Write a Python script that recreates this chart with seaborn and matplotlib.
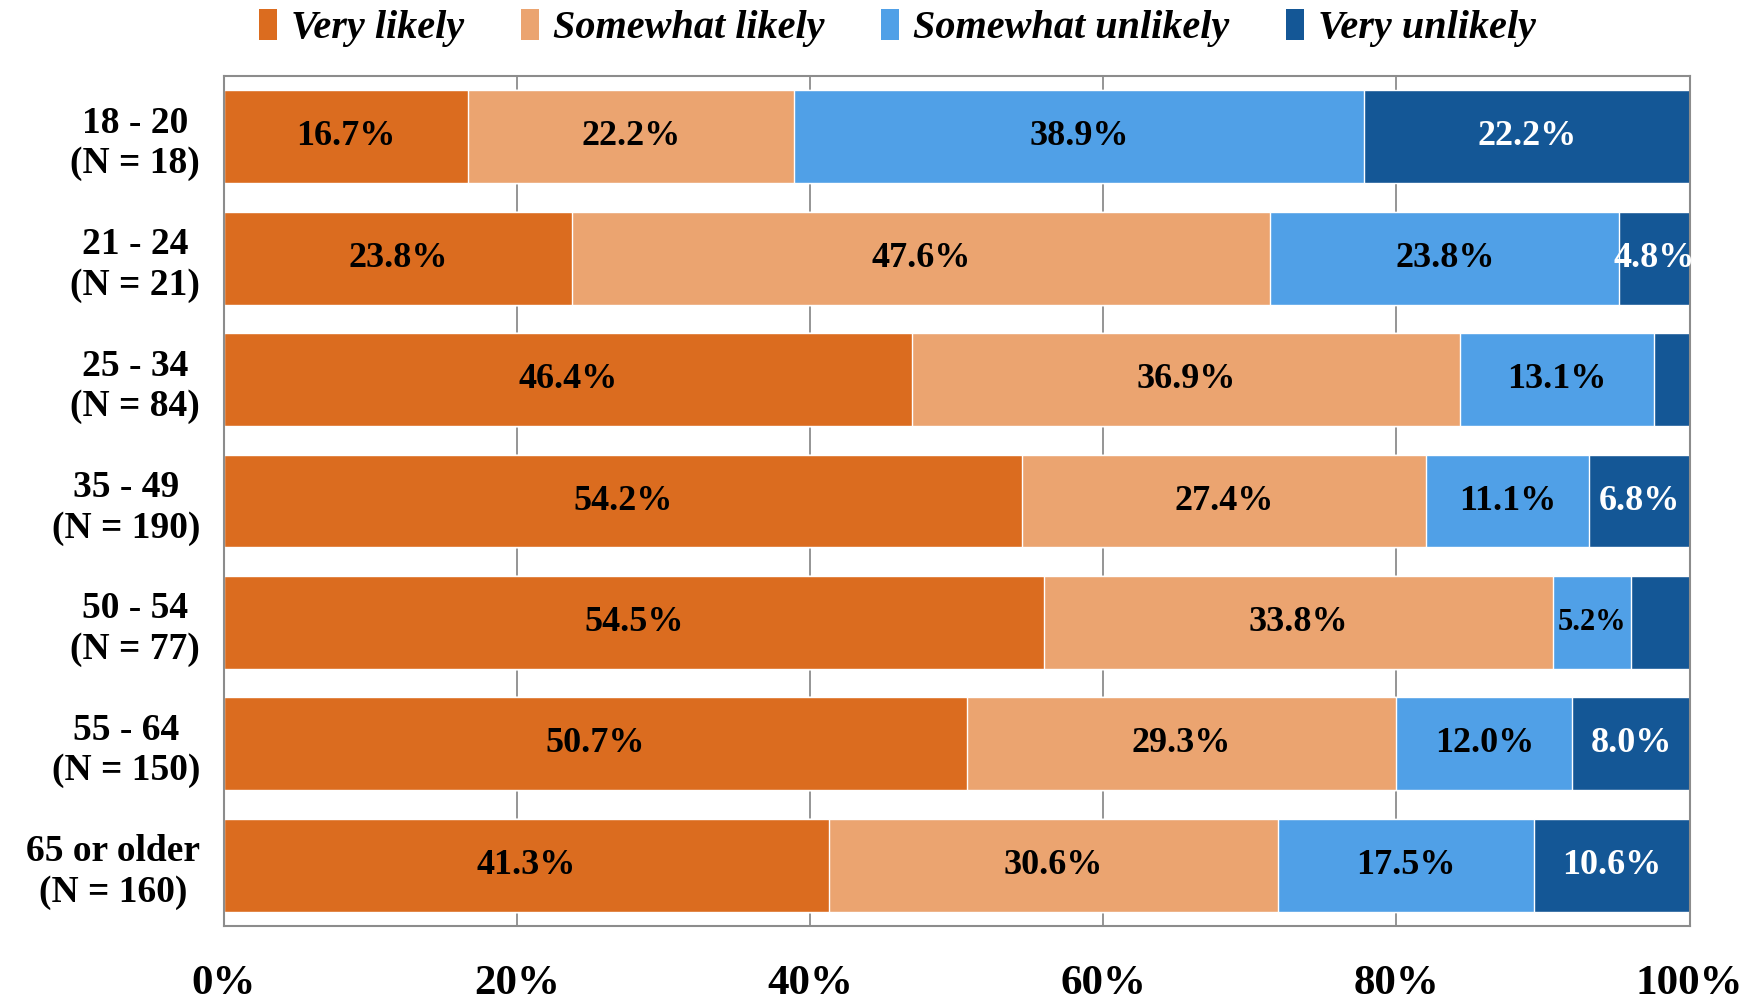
import matplotlib
matplotlib.use("Agg")
import matplotlib.pyplot as plt
from matplotlib.patches import Patch
import seaborn as sns
import pandas as pd
import numpy as np

# age groups (rows, top to bottom)
age_groups = ["18 - 20\n(N = 18)", "21 - 24\n(N = 21)", "25 - 34\n(N = 84)",
              "35 - 49\n(N = 190)", "50 - 54\n(N = 77)", "55 - 64\n(N = 150)",
              "65 or older\n(N = 160)"]

# percent of N in each answer (as printed on the bars)
very_likely = [16.7, 23.8, 46.4, 54.2, 54.5, 50.7, 41.3]
somewhat_likely = [22.2, 47.6, 36.9, 27.4, 33.8, 29.3, 30.6]
somewhat_unlikely = [38.9, 23.8, 13.1, 11.1, 5.2, 12.0, 17.5]
very_unlikely = [22.2, 4.8, 2.4, 6.8, 3.9, 8.0, 10.6]

answers = ["Very likely", "Somewhat likely", "Somewhat unlikely", "Very unlikely"]
colors = ["#DB6C1F", "#EBA470", "#50A0E7", "#145796"]
text_colors = ["black", "black", "black", "white"]
x_ticks = [0, 20, 40, 60, 80, 100]

sns.set_theme(style="white")
plt.rcParams["font.family"] = ["Liberation Serif", "DejaVu Serif"]
plt.rcParams["font.weight"] = "bold"
plt.rcParams["text.color"] = "black"
plt.rcParams["xtick.color"] = "black"
plt.rcParams["ytick.color"] = "black"

pct = np.array([very_likely, somewhat_likely, somewhat_unlikely, very_unlikely])
# bars are stretched to fill 100% (some people gave no answer)
share = pct / pct.sum(axis=0) * 100
cum = np.cumsum(share, axis=0)

fig = plt.figure(figsize=(17.6, 10), dpi=100)
ax = fig.add_axes([0.127, 0.074, 0.833, 0.850])

# stacked bars: draw cumulative totals back to front
for i in range(3, -1, -1):
    df = pd.DataFrame({"age": age_groups, "end": cum[i]})
    sns.barplot(data=df, x="end", y="age", orient="h", color=colors[i],
                saturation=1, width=0.765, ax=ax, zorder=2)

# labels in the middle of each piece
for i in range(4):
    for j in range(len(age_groups)):
        if pct[i, j] < 4:
            continue
        mid = cum[i, j] - share[i, j] / 2
        fs = 22 if (i == 2 and share[i, j] < 6) else 26
        ax.text(mid, j, f"{pct[i, j]:.1f}%", ha="center", va="center",
                fontsize=fs, fontweight="bold", color=text_colors[i], zorder=3)

ax.set_xlim(0, 100)
ax.set_ylim(6.5, -0.5)
ax.set_xticks(x_ticks)
ax.set_xticklabels([f"{t}%" for t in x_ticks], fontsize=31, fontweight="bold")
ax.tick_params(axis="x", length=0, pad=28)
ax.tick_params(axis="y", length=0, pad=17, labelsize=27)
for lab in ax.get_yticklabels():
    lab.set_multialignment("center")
    lab.set_fontweight("bold")
ax.set_xlabel("")
ax.set_ylabel("")
ax.xaxis.grid(True, color="#8C8C8C", linewidth=1.3, zorder=0)
ax.set_axisbelow(True)
for s in ax.spines.values():
    s.set_color("#8C8C8C")
    s.set_linewidth(1.5)

handles = [Patch(facecolor=c, edgecolor="none", label=a) for c, a in zip(colors, answers)]
fig.legend(handles=handles, loc="center", bbox_to_anchor=(0.51, 0.972), ncol=4,
           frameon=False, handlelength=0.45, handleheight=0.8, handletextpad=0.35,
           columnspacing=1.4,
           prop={"family": "Liberation Serif", "style": "italic", "weight": "bold", "size": 29})

fig.savefig("out.png", dpi=100)
